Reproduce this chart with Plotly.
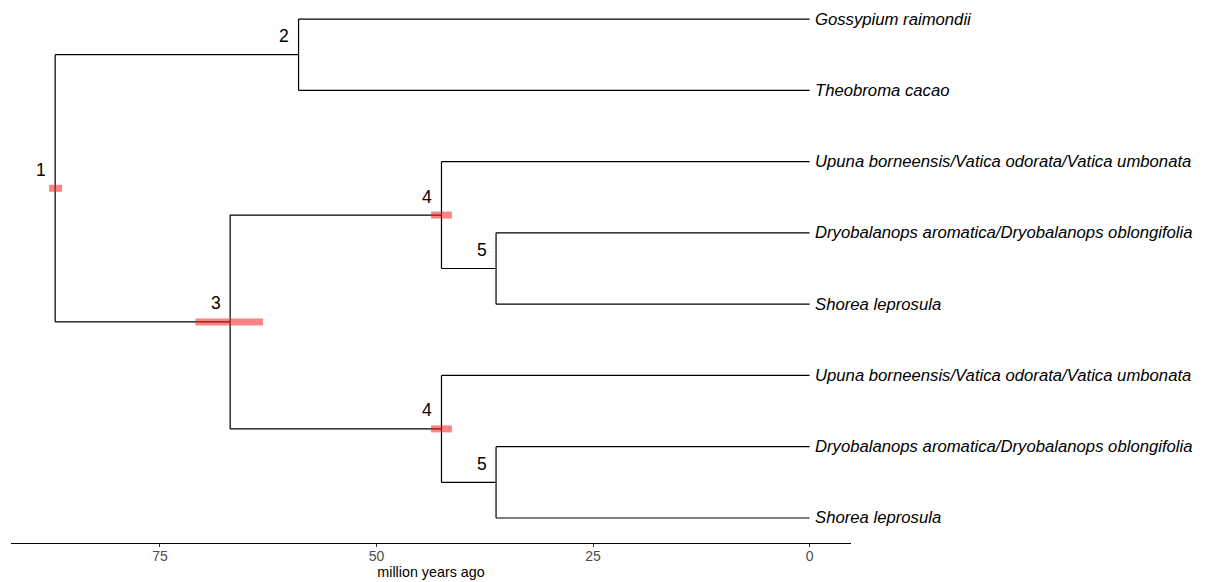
import plotly.graph_objects as go

# ---- tree data -------------------------------------------------------------
# Internal nodes: id, age (Ma), parent id, displayed label, HPD interval (Ma)
node_ids = ["n1", "n2", "n3", "n4a", "n5a", "n4b", "n5b"]
node_age = [87.1, 59.0, 66.9, 42.5, 36.2, 42.5, 36.2]
node_parent = [None, "n1", "n1", "n3", "n4a", "n3", "n4b"]
node_label = ["1", "2", "3", "4", "5", "4", "5"]
hpd_low = [86.3, None, 63.1, 41.3, None, 41.3, None]
hpd_high = [87.8, None, 70.9, 43.7, None, 43.7, None]

# Tips, top to bottom, with their parent node
tip_names = [
    "Gossypium raimondii",
    "Theobroma cacao",
    "Upuna borneensis/Vatica odorata/Vatica umbonata",
    "Dryobalanops aromatica/Dryobalanops oblongifolia",
    "Shorea leprosula",
    "Upuna borneensis/Vatica odorata/Vatica umbonata",
    "Dryobalanops aromatica/Dryobalanops oblongifolia",
    "Shorea leprosula",
]
tip_parent = ["n2", "n2", "n4a", "n5a", "n5a", "n4b", "n5b", "n5b"]
tip_age = [0.0] * len(tip_names)

x_ticks = [75, 50, 25, 0]
x_title = "million years ago"

# ---- layout of the tree (tips evenly spaced, internal nodes centred) -------
n_tips = len(tip_names)
age = {}
ypos = {}
children = {nid: [] for nid in node_ids}
for i, (name, par) in enumerate(zip(tip_names, tip_parent)):
    tid = f"t{i}"
    age[tid] = tip_age[i]
    ypos[tid] = n_tips - i
    children[par].append(tid)
for nid, a, par in zip(node_ids, node_age, node_parent):
    age[nid] = a
    if par is not None:
        children[par].append(nid)


def place(nid):
    if nid in ypos:
        return ypos[nid]
    ys = [place(c) for c in children[nid]]
    ypos[nid] = (min(ys) + max(ys)) / 2
    return ypos[nid]


for nid in node_ids:
    place(nid)

parent_of = dict(zip(node_ids, node_parent))
for i, par in enumerate(tip_parent):
    parent_of[f"t{i}"] = par

ex, ey = [], []
# horizontal branches
for cid, par in parent_of.items():
    if par is None:
        continue
    ex += [age[par], age[cid], None]
    ey += [ypos[cid], ypos[cid], None]
# vertical connectors
for nid in node_ids:
    ys = [ypos[c] for c in children[nid]]
    ex += [age[nid], age[nid], None]
    ey += [min(ys), max(ys), None]

# node age intervals
bx, by = [], []
for nid, lo, hi in zip(node_ids, hpd_low, hpd_high):
    if lo is None:
        continue
    bx += [hi, lo, None]
    by += [ypos[nid], ypos[nid], None]

fig = go.Figure()
fig.add_trace(go.Scatter(x=ex, y=ey, mode="lines",
                         line=dict(color="black", width=1.2),
                         hoverinfo="skip", showlegend=False))
fig.add_trace(go.Scatter(x=bx, y=by, mode="lines",
                         line=dict(color="rgba(245,30,30,0.55)", width=7),
                         hoverinfo="skip", showlegend=False))

font_family = "Liberation Sans, Arial, Helvetica, sans-serif"
annotations = []
for i, name in enumerate(tip_names):
    annotations.append(dict(
        x=tip_age[i], y=ypos[f"t{i}"], text=name, showarrow=False,
        xanchor="left", yanchor="middle", xshift=3,
        font=dict(family=font_family, size=16.7, color="black", style="italic")))
for nid, lab in zip(node_ids, node_label):
    annotations.append(dict(
        x=age[nid], y=ypos[nid], text=lab, showarrow=False,
        xanchor="center", yanchor="middle", xshift=-14.5, yshift=18.5,
        font=dict(family=font_family, size=17.5, color="black")))

fig.update_layout(
    width=1205, height=582,
    margin=dict(l=11, r=354, t=0, b=39),
    paper_bgcolor="white", plot_bgcolor="white",
    annotations=annotations,
    xaxis=dict(range=[92.2, -4.78], tickvals=x_ticks,
               showgrid=False, zeroline=False,
               showline=True, linecolor="black", linewidth=1.3,
               ticks="outside", ticklen=3, tickcolor="#333333", tickwidth=1,
               ticklabelstandoff=-3,
               tickfont=dict(family=font_family, size=14, color="#4d4d4d"),
               title=dict(text=x_title, standoff=0,
                          font=dict(family=font_family, size=14.3, color="black"))),
    yaxis=dict(range=[0.649, 8.267], visible=False),
)

fig.write_html("out.html")
